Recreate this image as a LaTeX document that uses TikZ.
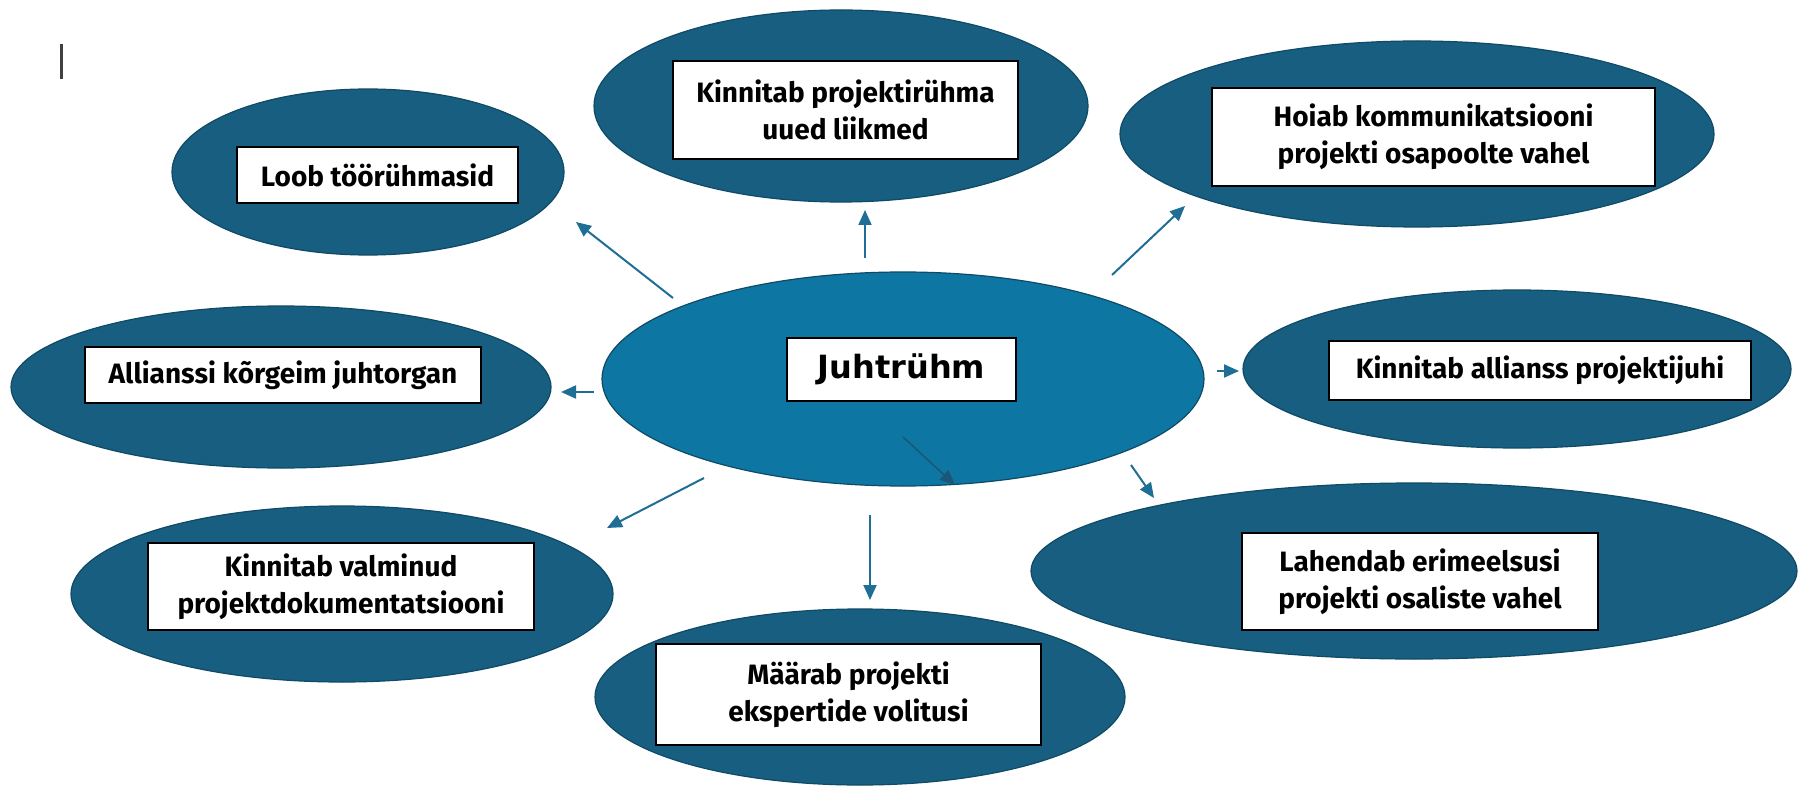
\documentclass[tikz,border=0pt]{standalone}
\usepackage{fontspec}
\usetikzlibrary{shapes.geometric,arrows.meta}
\newfontfamily\boxfont{Fira Sans}
\newfontfamily\hubfont{DejaVu Sans}
\definecolor{outerc}{HTML}{185E80}
\definecolor{hubc}{HTML}{0E76A2}
\definecolor{edgec}{HTML}{0F4A66}
\definecolor{arrc}{HTML}{1F6E96}
\definecolor{arrdark}{HTML}{1A5675}
\tikzset{
  oval/.style 2 args={ellipse, fill=outerc, draw=edgec, line width=1.2pt,
    inner sep=0pt, minimum width=#1, minimum height=#2},
  hub/.style 2 args={oval={#1}{#2}, fill=hubc},
  labelbox/.style 2 args={draw=black, line width=2pt, fill=white, align=center,
    inner sep=0pt, minimum width=#1, minimum height=#2,
    font=\boxfont\bfseries\fontsize{28}{37}\selectfont},
  arr/.style={-{Triangle[length=15pt,width=13pt]}, line width=2pt, draw=arrc},
}
\begin{document}
\begin{tikzpicture}[x=1pt,y=-1pt]
\useasboundingbox (0,0) rectangle (1798,786);
\fill[white] (0,0) rectangle (1798,786);

% text cursor mark in the corner
\draw[line width=3pt, draw=black!75] (61,44) -- (61,79);

% outer ellipses
\node[oval={392pt}{166pt}] (e1) at (368,172) {};
\node[oval={494pt}{192pt}] (e2) at (841,106) {};
\node[oval={594pt}{186pt}] (e3) at (1417,134) {};
\node[oval={548pt}{158pt}] (e4) at (1517,369) {};
\node[oval={766pt}{176pt}] (e5) at (1414,571) {};
\node[oval={530pt}{176pt}] (e6) at (860,697) {};
\node[oval={542pt}{176pt}] (e7) at (342,594) {};
\node[oval={540pt}{162pt}] (e8) at (281,387) {};
% central ellipse
\node[hub={602pt}{214pt}] (hub) at (903,379) {};

% label boxes
\node[labelbox={281pt}{56pt}] (b1) at (377.5,175) {Loob töörühmasid};
\node[labelbox={345pt}{98pt}] (b2) at (845.5,110) {Kinnitab projektirühma\\uued liikmed};
\node[labelbox={443pt}{98pt}] (b3) at (1433.5,137) {Hoiab kommunikatsiooni\\projekti osapoolte vahel};
\node[labelbox={422pt}{59pt}] (b4) at (1540,370.5) {Kinnitab allianss projektijuhi};
\node[labelbox={356pt}{97pt}] (b5) at (1420,581.5) {Lahendab erimeelsusi\\projekti osaliste vahel};
\node[labelbox={385pt}{101pt}] (b6) at (848.5,694.5) {Määrab projekti\\ekspertide volitusi};
\node[labelbox={386pt}{87pt}] (b7) at (341,586.5) {Kinnitab valminud\\projektdokumentatsiooni};
\node[labelbox={396pt}{56pt}] (b8) at (283,375) {Allianssi kõrgeim juhtorgan};
\node[labelbox={229pt}{63pt}, font=\hubfont\bfseries\fontsize{32}{38}\selectfont] (bh) at (901.5,369.5) {Juhtrühm};

% arrow end points
\coordinate (s1) at (673,298); \coordinate (t1) at (576,222);
\coordinate (s2) at (865,258); \coordinate (t2) at (865,210);
\coordinate (s3) at (1112,275); \coordinate (t3) at (1185,206);
\coordinate (s4) at (1217,371); \coordinate (t4) at (1239,371);
\coordinate (s5) at (1131,465); \coordinate (t5) at (1154,498);
\coordinate (s6) at (903,437); \coordinate (t6) at (955,485);
\coordinate (s7) at (870,515); \coordinate (t7) at (870,600);
\coordinate (s8) at (704,478); \coordinate (t8) at (607,528);
\coordinate (s9) at (594,392); \coordinate (t9) at (561,392);

% arrows
\draw[arr] (s1) -- (t1);
\draw[arr] (s2) -- (t2);
\draw[arr] (s3) -- (t3);
\draw[arr] (s4) -- (t4);
\draw[arr] (s5) -- (t5);
\draw[arr, draw=arrdark, line width=1.5pt] (s6) -- (t6);
\draw[arr] (s7) -- (t7);
\draw[arr] (s8) -- (t8);
\draw[arr] (s9) -- (t9);
\end{tikzpicture}
\end{document}
